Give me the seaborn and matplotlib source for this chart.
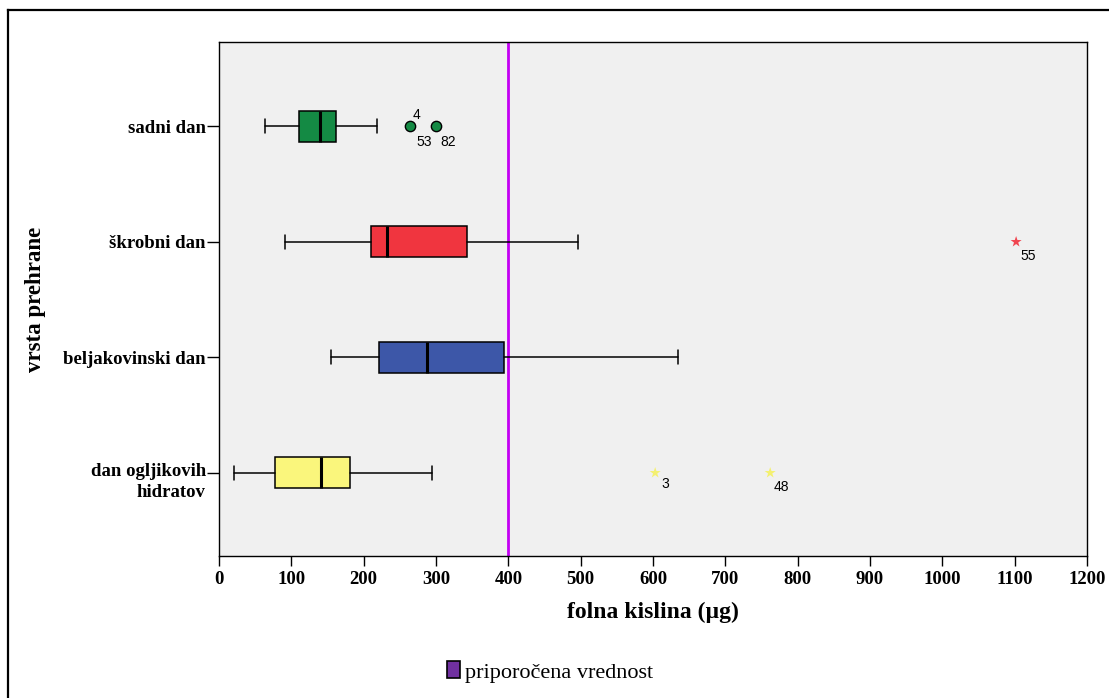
import matplotlib
matplotlib.use("Agg")
import matplotlib.pyplot as plt
import matplotlib.patches as mpatches
import matplotlib.lines as mlines
import matplotlib.transforms as mtrans
import seaborn as sns
import pandas as pd

# Diet-day categories (top to bottom)
categories = ["sadni dan", "škrobni dan", "beljakovinski dan", "dan ogljikovih\nhidratov"]
colors = ["#148A44", "#F0353F", "#3D57A8", "#FAF67C"]

# Five-number summaries of folate intake (µg) per category
whisker_low = [64, 91, 155, 21]
q1 = [110, 210, 221, 77]
median = [140, 232, 288, 141]
q3 = [162, 343, 394, 181]
whisker_high = [218, 496, 635, 294]

# Flagged cases: category index, value, case label, kind
out_cat = [0, 0, 1, 3, 3]
out_val = [264, 300, 1102, 603, 762]
out_kind = ["outlier", "outlier", "extreme", "extreme", "extreme"]
out_labels = [["4", "53"], ["82"], ["55"], ["3"], ["48"]]

recommended = 400
xticks = list(range(0, 1201, 100))

sns.set_theme(style="white")
plt.rcParams["font.family"] = ["Liberation Serif", "DejaVu Serif"]
plt.rcParams.update({"text.color": "black", "axes.labelcolor": "black",
                     "xtick.color": "black", "ytick.color": "black"})

fig = plt.figure(figsize=(11.09, 6.98), dpi=100)
ax = fig.add_axes([219 / 1109, 1 - 556 / 698, 868 / 1109, 514 / 698])
ax.set_facecolor("#F0F0F0")

stats = []
for i, cat in enumerate(categories):
    stats.append(dict(label=cat, whislo=whisker_low[i], q1=q1[i], med=median[i],
                      q3=q3[i], whishi=whisker_high[i], fliers=[]))

bp = ax.bxp(stats, positions=range(len(categories)), orientation="horizontal",
            widths=0.27, capwidths=0.12, patch_artist=True, showfliers=False,
            boxprops=dict(edgecolor="black", linewidth=1.1),
            medianprops=dict(color="black", linewidth=2.2),
            whiskerprops=dict(color="black", linewidth=1.1),
            capprops=dict(color="black", linewidth=1.1))
for patch, c in zip(bp["boxes"], colors):
    patch.set_facecolor(c)

ax.axvline(recommended, color="#C400F4", linewidth=2.0, zorder=1)

df = pd.DataFrame({"cat": out_cat, "val": out_val, "kind": out_kind})
circ = df[df.kind == "outlier"]
sns.scatterplot(data=circ, x="val", y="cat", ax=ax, marker="o", s=55,
                color=colors[0], edgecolor="black", linewidth=1.0, zorder=5, legend=False)
ext = df[df.kind == "extreme"]
sns.scatterplot(data=ext, x="val", y="cat", ax=ax, marker="*", s=70,
                hue="cat", palette={1: "#F04550", 3: "#F4F070"},
                edgecolor="none", zorder=5, legend=False)

# Case labels next to the flagged points
offsets = {"4": (5, 8), "53": (10, -11), "82": (9, -11), "55": (9, -10),
           "3": (7, -8), "48": (8, -10)}
for c, v, labs in zip(out_cat, out_val, out_labels):
    for lab in labs:
        ax.annotate(lab, (v, c), textcoords="offset points", xytext=offsets[lab],
                    ha="center", va="center", fontsize=10,
                    family=["Liberation Sans", "DejaVu Sans"])

ax.set_xlim(0, 1200)
ax.set_ylim(3.72, -0.73)
ax.set_xticks(xticks)
ax.set_xticklabels([str(t) for t in xticks], fontsize=13.5, fontweight="bold")
ax.set_yticks(range(len(categories)))
ax.set_yticklabels(categories, fontsize=13.5, fontweight="bold", linespacing=1.3)
ax.tick_params(axis="x", direction="out", length=7, width=1, pad=4)
ax.tick_params(axis="y", direction="out", length=9, width=1, pad=0.5)
ax.tick_params(left=True, bottom=True)

# Two-line label: first line sits on the tick
lab = ax.get_yticklabels()[3]
lab.set_transform(lab.get_transform() + mtrans.ScaledTranslation(0, -5 / 100, fig.dpi_scale_trans))

for s in ax.spines.values():
    s.set_color("black")
    s.set_linewidth(1.0)

ax.set_xlabel("folna kislina (µg)", fontsize=17, fontweight="bold", labelpad=10)
ax.set_ylabel("vrsta prehrane", fontsize=16.5, fontweight="bold")
ax.yaxis.set_label_coords((46 - 219) / 868, 0.5)

# Legend entry for the reference line
handle = mpatches.Patch(facecolor="#7030A0", edgecolor="black", linewidth=1.2)
fig.legend([handle], ["priporočena vrednost"], loc="center",
           bbox_to_anchor=(550 / 1109, 1 - 672 / 698), frameon=False,
           fontsize=16, handlelength=0.6, handleheight=0.8, handletextpad=0.2)

# Outer frame around the figure (left and top edges)
x0, y0 = 8 / 1109, 1 - 10 / 698
fig.lines.append(mlines.Line2D([x0, x0], [0, y0], transform=fig.transFigure,
                               color="black", linewidth=1.6, solid_capstyle="projecting"))
fig.lines.append(mlines.Line2D([x0, 1], [y0, y0], transform=fig.transFigure,
                               color="black", linewidth=1.6, solid_capstyle="projecting"))

fig.savefig("out.png", dpi=100)
